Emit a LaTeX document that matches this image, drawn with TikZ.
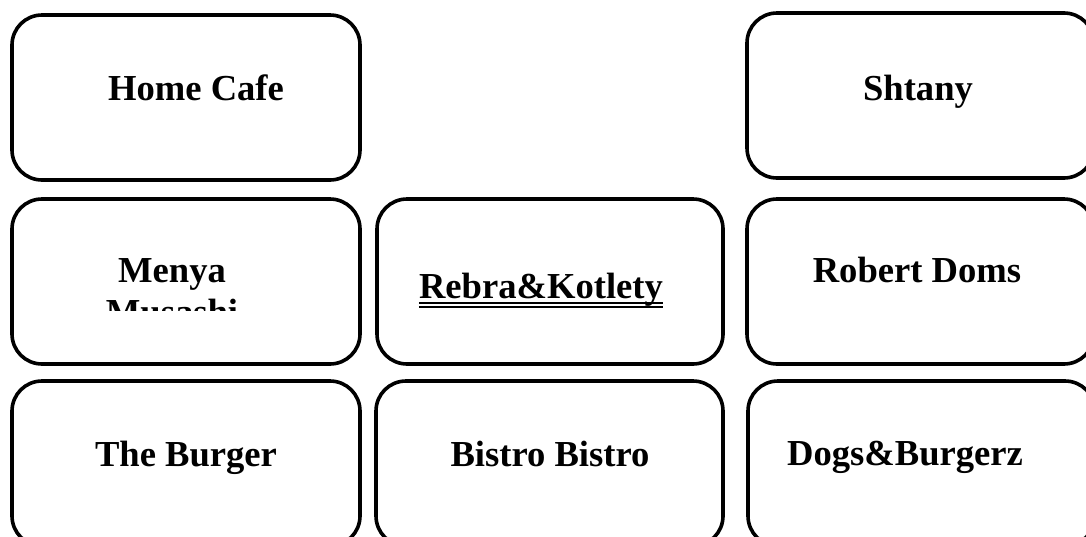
\documentclass[tikz,border=0pt]{standalone}
\usepackage{fontspec}
\setmainfont{Liberation Serif}
\begin{document}
\begin{tikzpicture}[x=1pt,y=-1pt,
  card/.style={draw=black,line width=3.6pt,rounded corners=30pt,fill=none,inner sep=0pt,outer sep=0pt,
    minimum width=347pt,minimum height=165pt},
  lbl/.style={inner sep=0pt,anchor=base,font=\fontsize{36.6}{42}\selectfont\bfseries},
  uline/.style={line width=1.6pt}]
\useasboundingbox (0,0) rectangle (1086,536);
\clip (0,0) rectangle (1086,536);
% boxes
\node[card,minimum width=348pt] (b1) at (186,97.5) {};
\node[card] (b2) at (920.5,95.5) {};
\node[card,minimum width=348pt] (b3) at (186,281.5) {};
\node[card,minimum width=346pt] (b4) at (550,281.5) {};
\node[card] (b5) at (920.5,281.5) {};
\node[card,minimum width=348pt] (b6) at (186,463.5) {};
\node[card] (b7) at (549.5,463.5) {};
\node[card] (b8) at (921.5,463.5) {};
% labels
\node[lbl] (home) at (196,100) {Home Cafe};
\node[lbl] (shtany) at (918,100) {Shtany};
\begin{scope}
\clip (20,205) rectangle (350,310);
\node[lbl] (menya) at (172,282) {Menya};
\node[lbl] (musashi) at (172,324) {Musashi};
\end{scope}
\node[lbl] (rebra) at (541,298) {Rebra\&Kotlety};
\draw[uline] ([yshift=-5pt]rebra.base west) -- ([yshift=-5pt]rebra.base east);
\draw[uline] ([yshift=-9pt]rebra.base west) -- ([yshift=-9pt]rebra.base east);
\node[lbl] (robert) at (917,282) {Robert Doms};
\node[lbl] (burger) at (186,466) {The Burger};
\node[lbl] (bistro) at (550,466) {Bistro Bistro};
\node[lbl] (dogs) at (905,465) {Dogs\&Burgerz};
\end{tikzpicture}
\end{document}
